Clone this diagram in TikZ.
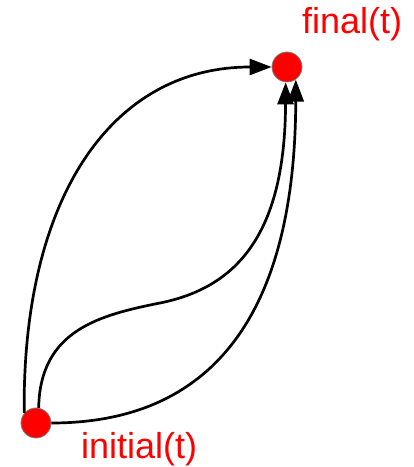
\documentclass[tikz,border=0pt]{standalone}
\usepackage{fontspec}
\setsansfont{Liberation Sans}
\usetikzlibrary{arrows.meta, positioning}

\begin{document}
\begin{tikzpicture}[x=1pt, y=1pt,
                state/.style={circle, fill=red, draw=gray, line width=0.8pt,
                              minimum size=30pt, inner sep=0pt},
                lbl/.style={text=red, inner sep=0pt, font=\sffamily\fontsize{36}{40}\selectfont},
                flow/.style={-{Triangle[length=22pt, width=16pt]}, line width=2.7pt}]
                \useasboundingbox (0,0) rectangle (414,467);
                \node[state] (initial) at (36,44) {};
                \node[state] (final) at (287,400) {};
                \node[lbl, anchor=base west] (initiallbl) at (81,8.5) {initial(t)};
                \node[lbl, anchor=base west] (finallbl) at (302,433.5) {final(t)};

                \draw[flow] (initial.140) .. controls (22,267) and (110,400) .. (final.west);
                \draw[flow] (initial.80) .. controls (40,137) and (100,152) .. (160,164)
                      .. controls (240,180) and (285,237) .. (final.-95);
                \draw[flow] (initial.east) .. controls (200,44) and (295,137) .. (final.-55);
            \end{tikzpicture}
\end{document}
